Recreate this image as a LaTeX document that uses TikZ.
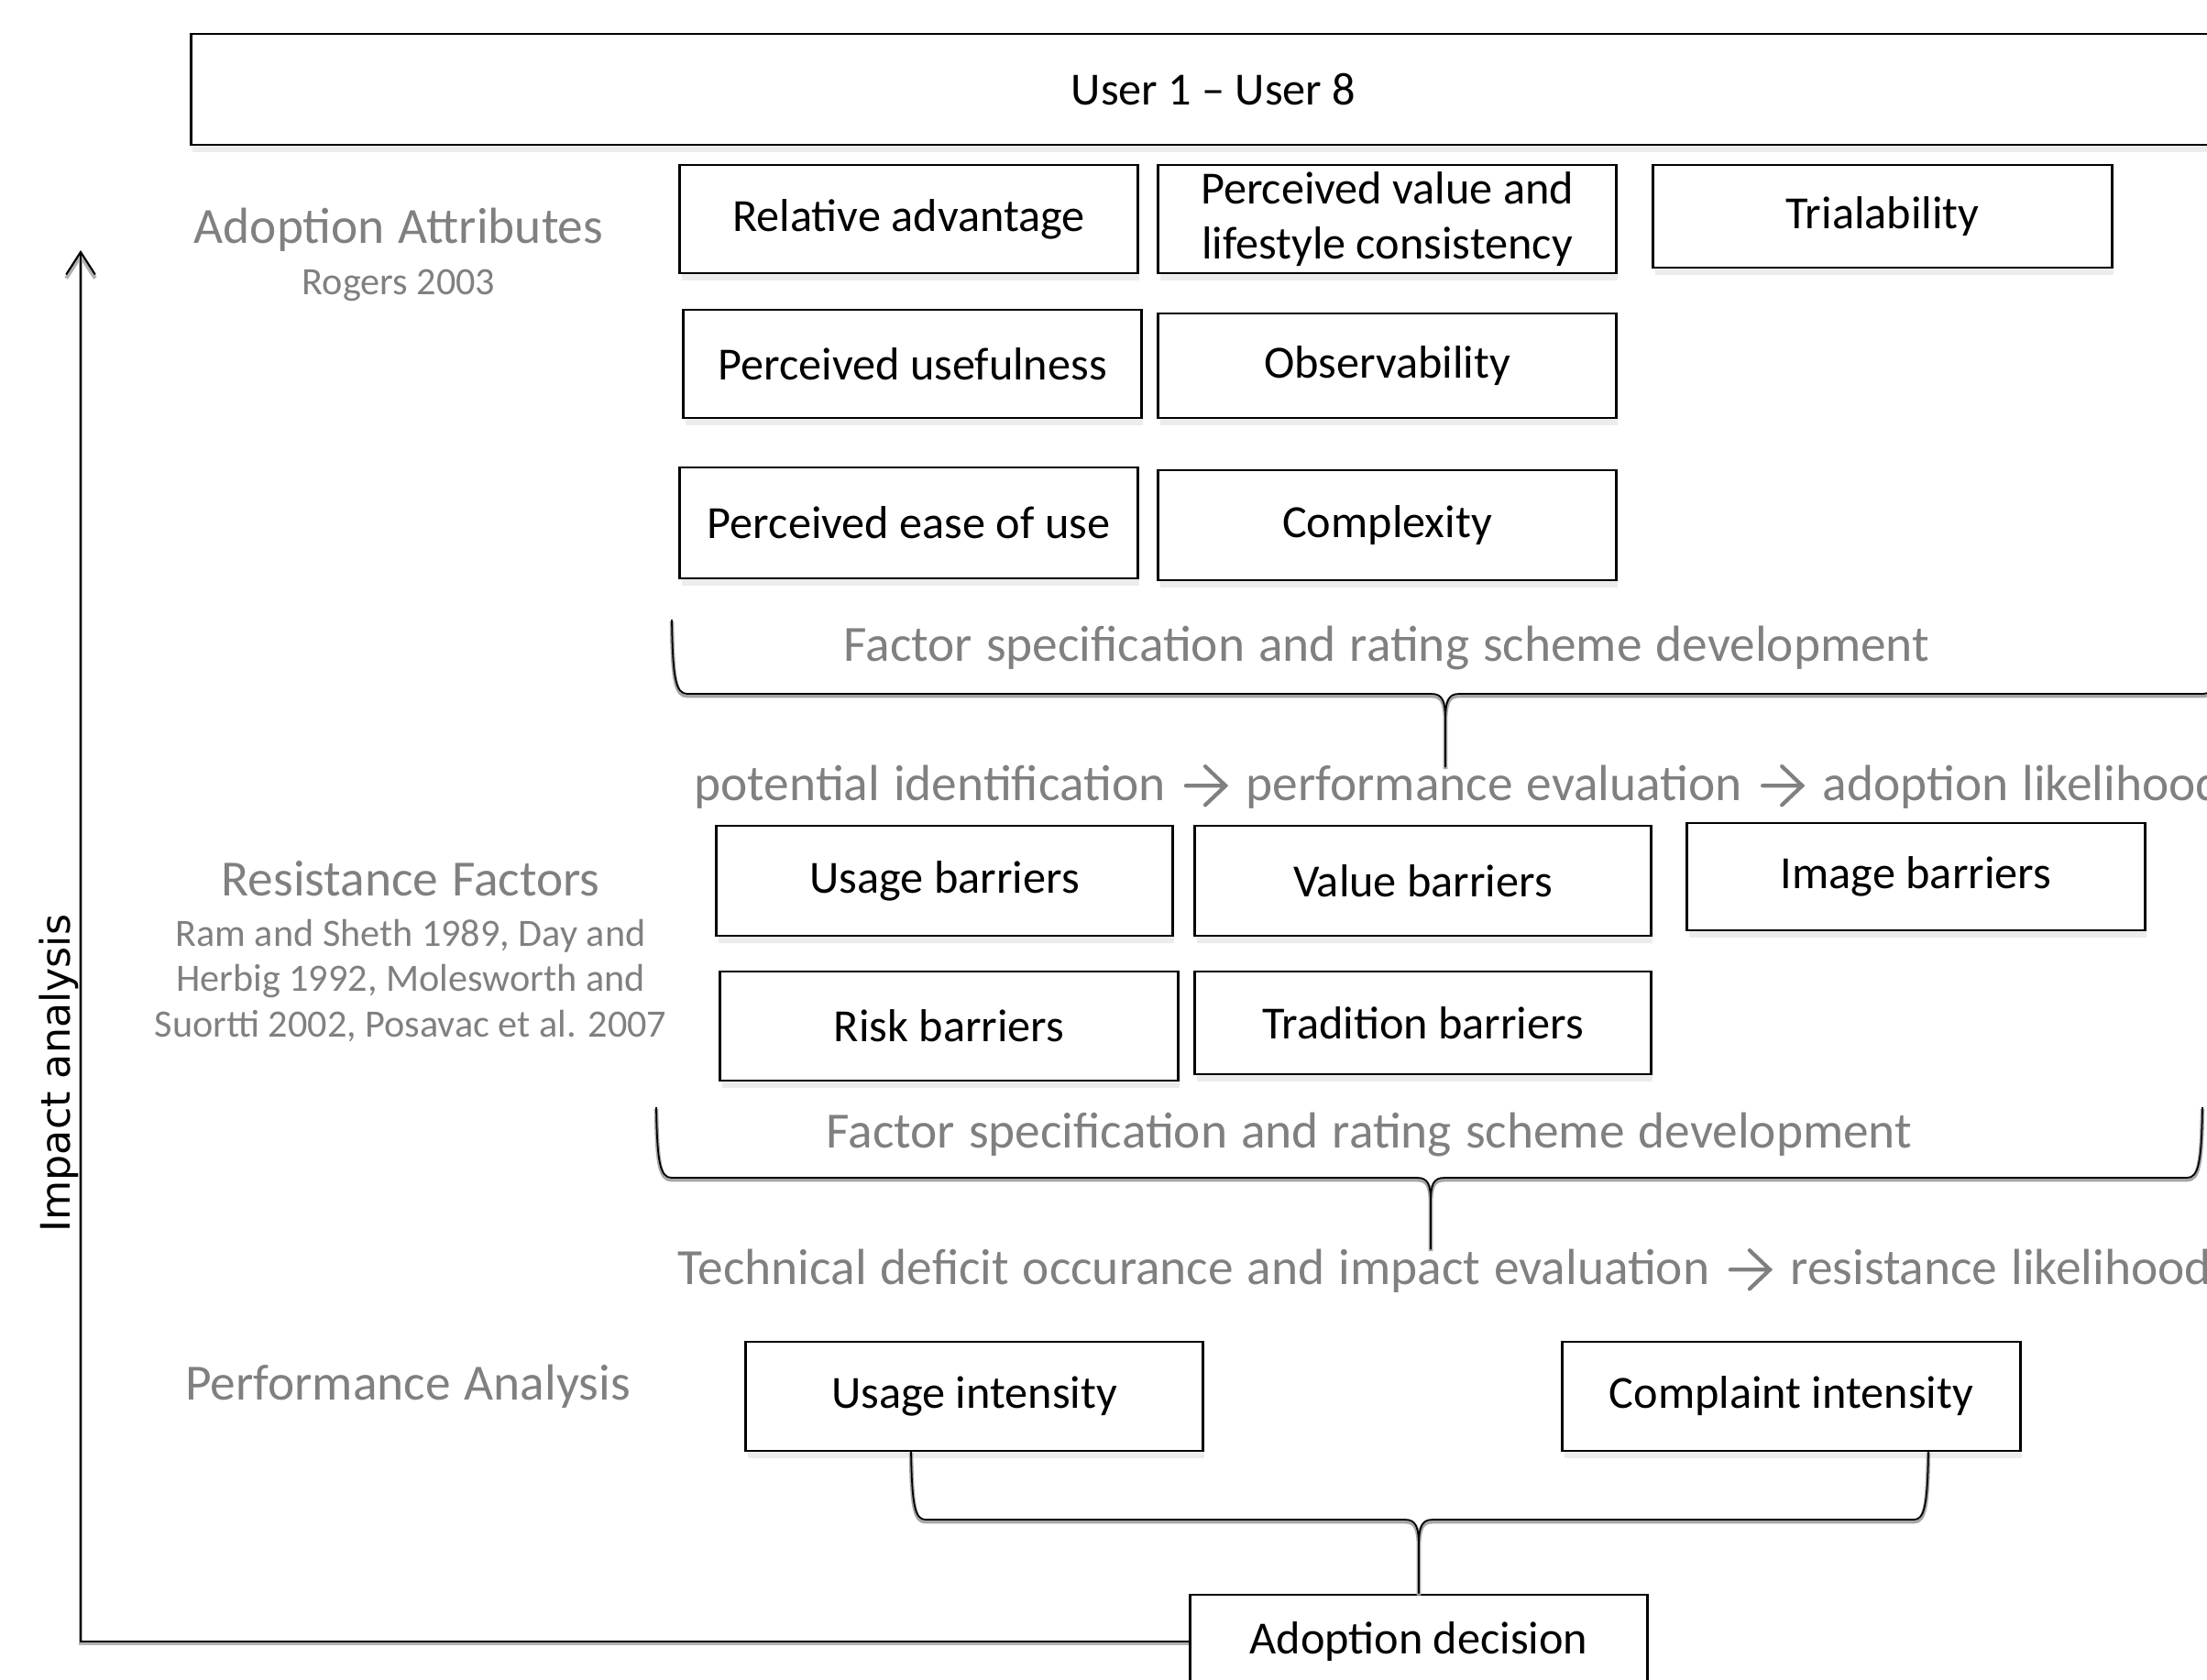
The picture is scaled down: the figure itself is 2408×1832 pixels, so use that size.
\documentclass[tikz,border=0pt]{standalone}
\usepackage{fontspec}
\setmainfont{Carlito}
\newfontfamily\djv{DejaVu Sans}
\newfontfamily\greyfont[WordSpace=1.2]{Carlito}
\usetikzlibrary{shadows,arrows.meta}
\definecolor{greytxt}{RGB}{128,128,128}
\newcommand{\myarr}{\hspace{1.5pt}\tikz[baseline=0pt]{\draw[greytxt, line width=1.2pt, line cap=round, line join=miter]
  (0pt,4.5pt) -- (12.3pt,4.5pt) (6pt,10.5pt) -- (12.3pt,4.5pt) -- (6pt,-1.5pt);}\hspace{1.5pt}}
\begin{document}
\begin{tikzpicture}[x=0.01cm,y=-0.01cm,
  box/.style={draw=black, line width=0.8pt, fill=white, align=center,
    font=\fontsize{14.3}{17}\selectfont, inner sep=0pt,
    drop shadow={opacity=0.15, shadow xshift=0.2mm, shadow yshift=-0.8mm}},
  hdr/.style={text=greytxt, font=\greyfont\fontsize{15.75}{18}\selectfont, inner sep=0pt},
  refs/.style={text=greytxt, font=\fontsize{12}{14.2}\selectfont, align=center, inner sep=0pt},
  brace/.style={line width=0.5pt,
    preaction={draw=black!35, line width=1.3pt, transform canvas={yshift=-0.6pt}}},
  axis/.style={line width=0.6pt,
    preaction={draw=black!30, line width=1.2pt, transform canvas={yshift=-0.6pt}}}
]
\useasboundingbox (0,0) rectangle (2408,1832);
\clip (0,0) rectangle (2408,1832);

% top box
\node[box, minimum width=22.3cm, minimum height=1.21cm] (users) at (1324,97.5) {User 1 – User 8};

% adoption attributes
\node[hdr] (aa) at (435,251) {Adoption Attributes};
\node[refs] (rog) at (435,311) {Rogers 2003};
\node[box, minimum width=4.99cm, minimum height=1.18cm] (ra) at (991.5,239) {Relative advantage};
\node[box, minimum width=4.99cm, minimum height=1.18cm] (pv) at (1513.5,239) {Perceived value and\\lifestyle consistency};
\node[box, minimum width=5cm, minimum height=1.12cm] (tr) at (2054,236) {Trialability};
\node[box, minimum width=4.99cm, minimum height=1.18cm] (pu) at (995.5,397) {Perceived usefulness};
\node[box, minimum width=4.99cm, minimum height=1.14cm] (ob) at (1513.5,399) {Observability};
\node[box, minimum width=4.99cm, minimum height=1.21cm] (pe) at (991.5,570.5) {Perceived ease of use};
\node[box, minimum width=4.99cm, minimum height=1.2cm] (cx) at (1513.5,573) {Complexity};

\node[hdr] (fs1) at (1513,707) {Factor specification and rating scheme development};
\node[hdr, anchor=west] (pot) at (757,858) {potential identification \myarr{} performance evaluation \myarr{} adoption likelihood};

% resistance factors
\node[hdr] (rf) at (448,959) {Resistance Factors};
\node[refs] (rr) at (448,1070) {Ram and Sheth 1989, Day and\\Herbig 1992, Molesworth and\\Suortti 2002, Posavac et al. 2007};
\node[box, minimum width=4.97cm, minimum height=1.2cm] (ub) at (1030.5,961) {Usage barriers};
\node[box, minimum width=4.97cm, minimum height=1.2cm] (vb) at (1552.5,961) {Value barriers};
\node[box, minimum width=4.99cm, minimum height=1.17cm] (ib) at (2090.5,956.5) {Image barriers};
\node[box, minimum width=4.99cm, minimum height=1.19cm] (rb) at (1035.5,1119.5) {Risk barriers};
\node[box, minimum width=4.97cm, minimum height=1.12cm] (tb) at (1552.5,1116) {Tradition barriers};

\node[hdr] (fs2) at (1494,1238) {Factor specification and rating scheme development};
\node[hdr, anchor=west] (tech) at (739,1386) {Technical deficit occurance and impact evaluation \myarr{} resistance likelihood};

% performance analysis
\node[hdr] (pa) at (445,1513) {Performance Analysis};
\node[box, minimum width=4.98cm, minimum height=1.19cm] (ui) at (1063,1523.5) {Usage intensity};
\node[box, minimum width=4.99cm, minimum height=1.19cm] (ci) at (1954.5,1523.5) {Complaint intensity};
\node[box, minimum width=4.98cm, minimum height=1.02cm] (ad) at (1548,1791) {Adoption decision};

% impact analysis axis
\node[rotate=90, inner sep=0pt, font=\djv\fontsize{12.6}{15}\selectfont] (ia) at (64,1171) {Impact analysis};
\coordinate (corner) at (88,1791);
\coordinate (arrtop) at (88,273);
\draw[axis, -{Straight Barb[length=7pt,width=9pt]}] (ad.west) -- (corner) -- (arrtop);

% brace 1
\coordinate (b1l) at (733,676);
\coordinate (b1r) at (2420,676);
\coordinate (b1t) at (1577,837);
\draw[brace] (b1l) .. controls (734,740) and (737,757) .. (750,757) -- (1562,757)
  .. controls (1574,757) and (1577,765) .. (1577,787) -- (b1t)
  (1577,787) .. controls (1577,765) and (1580,757) .. (1592,757) -- (2404,757)
  .. controls (2417,757) and (2420,740) .. (b1r);

% brace 2
\coordinate (b2l) at (716,1208);
\coordinate (b2r) at (2403,1208);
\coordinate (b2t) at (1561,1363);
\draw[brace] (b2l) .. controls (717,1268) and (720,1285) .. (733,1285) -- (1546,1285)
  .. controls (1558,1285) and (1561,1292) .. (1561,1312) -- (b2t)
  (1561,1312) .. controls (1561,1292) and (1564,1285) .. (1576,1285) -- (2386,1285)
  .. controls (2399,1285) and (2402,1268) .. (b2r);

% brace 3
\coordinate (b3l) at (994,1583);
\coordinate (b3r) at (2104,1583);
\draw[brace] (b3l) .. controls (995,1642) and (998,1658) .. (1010,1658) -- (1533,1658)
  .. controls (1545,1658) and (1548,1666) .. (1548,1688) -- (ad.north)
  (1548,1688) .. controls (1548,1666) and (1551,1658) .. (1563,1658) -- (2088,1658)
  .. controls (2100,1658) and (2103,1642) .. (b3r);
\end{tikzpicture}
\end{document}
